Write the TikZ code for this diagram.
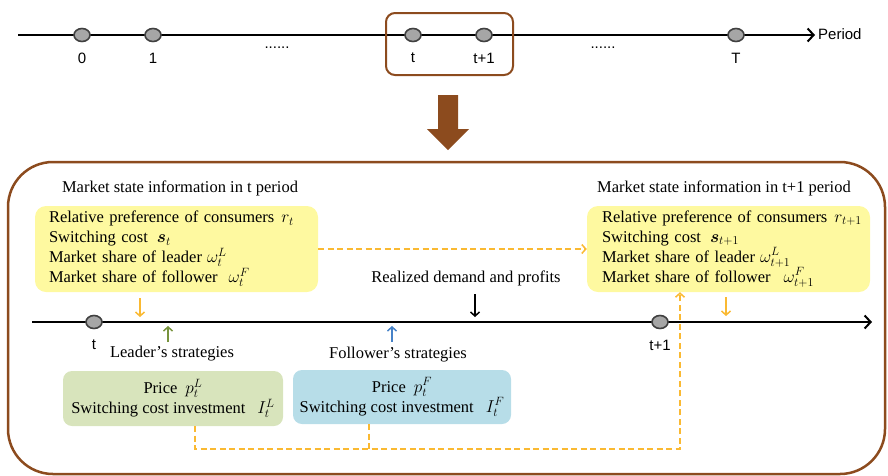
\documentclass[tikz,border=0pt]{standalone}
\usepackage{amsmath}
\usepackage{fontspec}
\setmainfont{Liberation Serif}
\setsansfont{Liberation Sans}
\usetikzlibrary{arrows.meta,shapes.geometric}
\definecolor{brownc}{RGB}{140,75,30}
\definecolor{yellowbox}{RGB}{254,249,160}
\definecolor{greenbox}{RGB}{216,228,188}
\definecolor{bluebox}{RGB}{183,221,232}
\definecolor{orangec}{RGB}{250,185,50}
\definecolor{greenarr}{RGB}{119,147,60}
\definecolor{bluearr}{RGB}{70,130,200}
\definecolor{dotfill}{RGB}{166,166,166}
\definecolor{dotline}{RGB}{64,64,64}
\begin{document}
\begin{tikzpicture}[x=1pt,y=-1pt,
  serif/.style={font=\fontsize{16.5}{20}\selectfont},
  sanslab/.style={font=\sffamily\fontsize{15}{17}\selectfont},
  tdot/.style={ellipse,draw=dotline,fill=dotfill,line width=1.6pt,minimum width=16pt,minimum height=13pt,inner sep=0pt},
  tline/.style={line width=2pt,-{Straight Barb[length=6pt,width=13pt,line width=2pt]}},
  statebox/.style={rounded corners=11pt,fill=yellowbox,minimum width=283pt,minimum height=86pt,text width=255pt,inner xsep=14pt,align=left,serif},
  stratbox/.style={rounded corners=9pt,align=center,serif,inner sep=0pt},
  odash/.style={orangec,line width=1.5pt,dash pattern=on 6pt off 3.5pt},
  odasharr/.style={odash,-{Straight Barb[length=4pt,width=9pt,line width=1.5pt]}},
  smallarr/.style={line width=1.5pt,-{Straight Barb[length=4pt,width=9pt,line width=1.5pt]}}
]
\useasboundingbox (0,0) rectangle (888,475);

% ---------- top timeline ----------
\coordinate (ts) at (18,35);
\coordinate (te) at (815,35);
\draw[tline] (ts) -- (te);
\node[tdot] (p0) at (82,35) {};
\node[tdot] (p1) at (153,35) {};
\node[tdot] (pt) at (413,35) {};
\node[tdot] (pt1) at (484,35) {};
\node[tdot] (pT) at (736,35) {};
\node[sanslab] (l0) at (82,58) {0};
\node[sanslab] (l1) at (153,58) {1};
\node[sanslab] (lt) at (413,58) {t};
\node[sanslab] (lt1) at (484,58) {t+1};
\node[sanslab] (lT) at (736,58) {T};
\node[sanslab] (dots1) at (277,48) {......};
\node[sanslab] (dots2) at (603,48) {......};
\node[sanslab,anchor=west,inner sep=0pt] (period) at (818,34) {Period};
\draw[brownc,line width=2pt,rounded corners=9pt] (386,13) rectangle (513,75);

% ---------- brown arrow ----------
\fill[brownc] (438,95) -- (458,95) -- (458,129) -- (469,129) -- (448,150) -- (427,129) -- (438,129) -- cycle;

% ---------- big frame ----------
\draw[brownc,line width=2.5pt,rounded corners=45pt] (8,162) rectangle (885,474);

% ---------- titles ----------
\node[serif] (tl) at (180,188) {Market state information in t period};
\node[serif] (tr) at (724,188) {Market state information in t+1 period};

% ---------- state boxes ----------
\node[statebox] (ml) at (176.5,249) {\mbox{Relative preference of consumers\hspace{7pt}$r_t$}\\
Switching cost\hspace{9pt}$\boldsymbol{s}_t$\\
Market share of leader\hspace{5pt}$\omega_t^L$\\
Market share of follower\hspace{11pt}$\omega_t^F$};
\node[statebox,inner xsep=15pt,text width=253pt] (mr) at (728.5,249) {\mbox{Relative preference of consumers\hspace{7pt}$r_{t+1}$}\\
Switching cost\hspace{9pt}$\boldsymbol{s}_{t+1}$\\
Market share of leader\hspace{5pt}$\omega_{t+1}^L$\\
Market share of follower\hspace{13pt}$\omega_{t+1}^F$};
\draw[odasharr] (ml.east) -- (mr.west);

% ---------- main timeline ----------
\coordinate (as) at (32,322);
\coordinate (ae) at (872,322);
\draw[tline] (as) -- (ae);
\node[tdot] (q0) at (94,322) {};
\node[tdot] (q1) at (660,322) {};
\node[sanslab] (qt) at (94,345) {t};
\node[sanslab] (qt1) at (660,345) {t+1};

% small arrows
\coordinate (oa1) at (140,298); \coordinate (ob1) at (140,317);
\draw[smallarr,orangec] (oa1) -- (ob1);
\coordinate (oa2) at (726,297); \coordinate (ob2) at (726,316);
\draw[smallarr,orangec] (oa2) -- (ob2);
\coordinate (ga) at (168,342); \coordinate (gb) at (168,326);
\draw[smallarr,greenarr] (ga) -- (gb);
\coordinate (ba) at (392,342); \coordinate (bb) at (392,326);
\draw[smallarr,bluearr] (ba) -- (bb);
\coordinate (ka) at (475,294); \coordinate (kb) at (475,317);
\draw[smallarr,black] (ka) -- (kb);

\node[serif] (real) at (466,278) {Realized demand and profits};
\node[serif] (lead) at (172,354) {Leader's strategies};
\node[serif] (foll) at (398,355) {Follower's strategies};

% ---------- strategy boxes ----------
\node[stratbox,fill=greenbox,minimum width=220pt,minimum height=55pt] (lb) at (173,398.5) {Price\hspace{8pt}$p_t^L$\\ Switching cost investment\hspace{12pt}$I_t^L$};
\node[stratbox,fill=bluebox,minimum width=218pt,minimum height=54pt] (fb) at (402,397) {Price\hspace{8pt}$p_t^F$\\ Switching cost investment\hspace{12pt}$I_t^F$};

\coordinate (jn) at (680,449);
\draw[odasharr] ([xshift=22pt]lb.south) |- (jn) -- (mr.south -| jn);
\draw[odash] ([xshift=-33pt]fb.south) -- ([xshift=-33pt]fb.south |- jn);
\end{tikzpicture}
\end{document}
